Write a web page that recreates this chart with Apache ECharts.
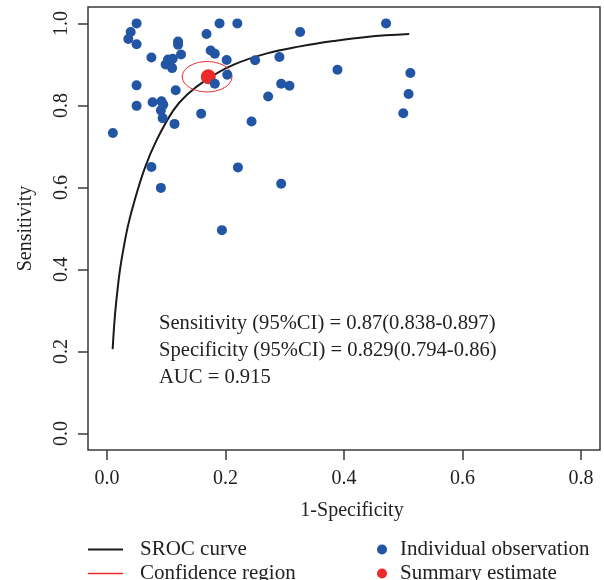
<!DOCTYPE html>
<html>
<head>
<meta charset="utf-8">
<script src="https://cdn.jsdelivr.net/npm/echarts@6/dist/echarts.min.js"></script>
<style>html,body{margin:0;padding:0;background:#fff;}#c{width:604px;height:580px;}</style>
</head>
<body>
<div id="c"></div>
<script>
// ---- data ----
const xTicks = [0, 0.2, 0.4, 0.6, 0.8];
const yTicks = [0, 0.2, 0.4, 0.6, 0.8, 1.0];

// individual observations: 1-specificity (x), sensitivity (y)
const obsX = [0.050,0.040,0.036,0.050,0.075,0.120,0.120,0.125,0.103,0.111,0.106,0.099,0.110,
  0.168,0.190,0.220,0.175,0.182,0.202,0.203,0.182,0.250,0.291,0.326,0.294,0.308,0.272,0.244,
  0.159,0.221,0.294,0.194,0.050,0.050,0.077,0.092,0.095,0.091,0.094,0.116,0.114,0.010,0.075,
  0.091,0.471,0.389,0.512,0.509,0.500];
const obsY = [1.000,0.979,0.962,0.949,0.917,0.956,0.948,0.924,0.912,0.914,0.899,0.900,0.891,
  0.974,1.000,1.000,0.934,0.926,0.911,0.875,0.853,0.910,0.918,0.979,0.853,0.848,0.822,0.761,
  0.780,0.649,0.609,0.496,0.849,0.799,0.808,0.810,0.802,0.788,0.769,0.837,0.755,0.733,0.650,
  0.599,1.000,0.887,0.879,0.828,0.781];

// SROC curve
const srocX = [0.0096,0.013,0.017,0.022,0.0275,0.036,0.047,0.064,0.084,0.112,0.135,0.168,0.213,0.270,0.326,0.382,0.438,0.510];
const srocY = [0.206,0.280,0.340,0.400,0.448,0.510,0.570,0.648,0.716,0.788,0.826,0.863,0.899,0.927,0.944,0.957,0.967,0.974];

// summary estimate and confidence ellipse parameters
const summary = [0.171, 0.870];
const ellipseCenter = [0.169, 0.870];
const ellipseRadii = [0.042, 0.037];

const annotations = [
  'Sensitivity (95%CI) = 0.87(0.838-0.897)',
  'Specificity (95%CI) = 0.829(0.794-0.86)',
  'AUC = 0.915'
];

// ---- build ----
const FONT = 'Liberation Serif';
const TXT = '#222';
const RED = '#ec2a2a';
const BLUE = '#2256a5';
const obs = obsX.map((x, i) => [x, obsY[i]]);
const sroc = srocX.map((x, i) => [x, srocY[i]]);
const ellipse = [];
for (let k = 0; k <= 72; k++) {
  const t = k / 72 * 2 * Math.PI;
  ellipse.push([ellipseCenter[0] + ellipseRadii[0] * Math.cos(t), ellipseCenter[1] + ellipseRadii[1] * Math.sin(t)]);
}

const chart = echarts.init(document.getElementById('c'), null, {renderer: 'canvas'});
const option = {
  animation: false,
  backgroundColor: '#fff',
  grid: {left: 88, right: 4, top: 7, bottom: 130, show: true, borderColor: '#3a3a3a', borderWidth: 1.5},
  xAxis: {
    type: 'value', min: -0.032, max: 0.832,
    splitLine: {show: false},
    axisLine: {show: false, onZero: false},
    axisTick: {show: true, inside: false, length: 10, customValues: xTicks, lineStyle: {color: '#3a3a3a', width: 1.5}},
    axisLabel: {customValues: xTicks, formatter: v => v.toFixed(1), margin: 19, fontSize: 20, fontFamily: FONT, color: TXT},
    name: '1-Specificity', nameLocation: 'middle', nameGap: 51,
    nameTextStyle: {fontSize: 20, fontFamily: FONT, color: TXT, padding: [0, 0, 0, 16]}
  },
  yAxis: {
    type: 'value', min: -0.04, max: 1.04,
    splitLine: {show: false},
    axisLine: {show: false, onZero: false},
    axisTick: {show: true, inside: false, length: 10, customValues: yTicks, lineStyle: {color: '#3a3a3a', width: 1.5}},
    axisLabel: {customValues: yTicks, formatter: v => v.toFixed(1), rotate: 90, margin: 16, fontSize: 20, fontFamily: FONT, color: TXT},
    name: 'Sensitivity', nameLocation: 'middle', nameGap: 52,
    nameTextStyle: {fontSize: 20, fontFamily: FONT, color: TXT}
  },
  legend: [
    {
      left: 88, top: 539, height: 60, padding: 0, orient: 'vertical', itemWidth: 35, itemHeight: 10, itemGap: 3,
      data: [
        {name: 'SROC curve', icon: 'path://M0,0H35V2H0Z', itemStyle: {color: '#1a1a1a'}},
        {name: 'Confidence region', icon: 'path://M0,0H35V1.3H0Z', itemStyle: {color: RED}}
      ],
      textStyle: {fontSize: 21, fontFamily: FONT, color: TXT, lineHeight: 20, padding: [0, 0, 0, 12]}
    },
    {
      left: 377, top: 539, height: 60, padding: 0, orient: 'vertical', itemWidth: 10, itemHeight: 10, itemGap: 3,
      data: [
        {name: 'Individual observation', icon: 'circle'},
        {name: 'Summary estimate', icon: 'circle'}
      ],
      textStyle: {fontSize: 21, fontFamily: FONT, color: TXT, lineHeight: 20, padding: [0, 0, 0, 8]}
    }
  ],
  series: [
    {
      name: 'SROC curve', type: 'line', data: sroc, smooth: 0.4, symbol: 'none',
      lineStyle: {color: '#1a1a1a', width: 2}, itemStyle: {color: '#1a1a1a'}, z: 2
    },
    {
      name: 'Confidence region', type: 'line', data: ellipse, smooth: false, symbol: 'none',
      lineStyle: {color: RED, width: 1}, itemStyle: {color: RED}, z: 3
    },
    {
      name: 'Summary estimate', type: 'scatter', data: [summary], symbolSize: 15,
      itemStyle: {color: RED, opacity: 1}, z: 4
    },
    {
      name: 'Individual observation', type: 'scatter', data: obs, symbolSize: 10,
      itemStyle: {color: BLUE, opacity: 1}, z: 5
    }
  ],
  graphic: annotations.map((t, i) => ({
    type: 'text', left: 159, top: 313 + i * 27,
    style: {text: t, fontSize: 20.6, fontFamily: FONT, fill: TXT}
  }))
};
chart.setOption(option);
</script>
</body>
</html>
